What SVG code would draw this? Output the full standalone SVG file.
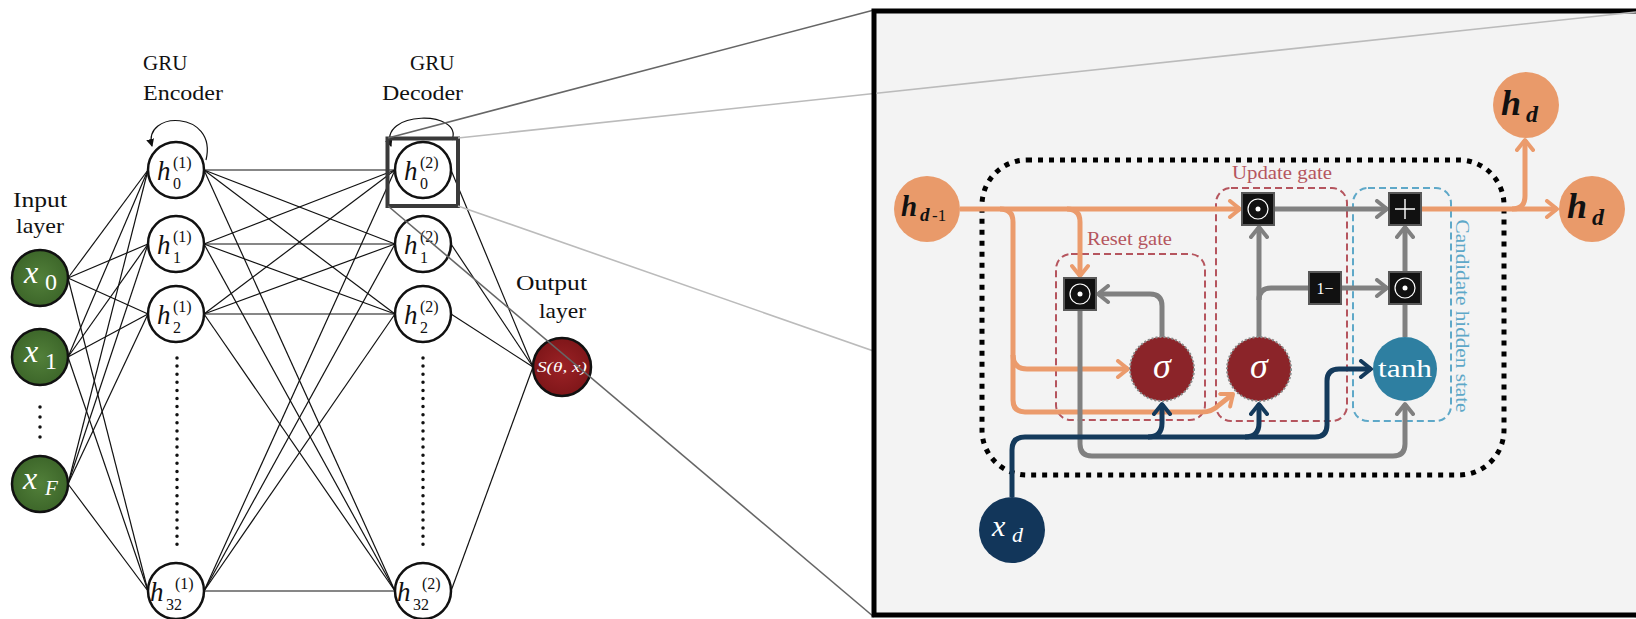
<svg xmlns="http://www.w3.org/2000/svg" width="1636" height="619" viewBox="0 0 1636 619">
<style>
.lbl{font-family:"Liberation Serif",serif;font-size:21px;fill:#111}
.net line,.net path{stroke:#111;stroke-width:1.2;fill:none}
.hn{fill:#fff;stroke:#111;stroke-width:2.5}
.mi{font-family:"Liberation Serif",serif;font-style:italic;fill:#111}
.mr{font-family:"Liberation Serif",serif;fill:#111}
.wi{font-family:"Liberation Serif",serif;font-style:italic;fill:#fff}
.wr{font-family:"Liberation Serif",serif;fill:#fff}
.bi{font-family:"Liberation Serif",serif;font-style:italic;font-weight:bold;fill:#111}
.og{stroke:#eb9b6c;stroke-width:5;fill:none}
.gr{stroke:#808080;stroke-width:5;fill:none}
.bl{stroke:#143a5c;stroke-width:5;fill:none}
.op{fill:#111;stroke:#595959;stroke-width:2}
.sym{fill:none;stroke:#fff;stroke-width:1.2}
.gate{fill:none;stroke:#b5555e;stroke-width:2;stroke-dasharray:7 4}
.cand{fill:none;stroke:#5ea8c8;stroke-width:2;stroke-dasharray:7 4}
.sig{fill:#8b2429;stroke:#8a8a8a;stroke-width:2;stroke-dasharray:2 2}
.glbl{font-family:"Liberation Serif",serif;font-size:18px;fill:#b5555e}
</style>
<defs>
<radialGradient id="gG" cx="0.5" cy="0.5" r="0.55"><stop offset="0" stop-color="#52803a"/><stop offset="1" stop-color="#3b6428"/></radialGradient>
<radialGradient id="gR" cx="0.5" cy="0.5" r="0.55"><stop offset="0" stop-color="#9c2226"/><stop offset="1" stop-color="#7c1518"/></radialGradient>
<marker id="aO" markerUnits="userSpaceOnUse" markerWidth="18" markerHeight="20" viewBox="0 0 18 20" refX="14" refY="10" orient="auto"><path d="M4,2 L14,10 L4,18" fill="none" stroke="#eb9b6c" stroke-width="4" stroke-linecap="round" stroke-linejoin="round"/></marker>
<marker id="aG" markerUnits="userSpaceOnUse" markerWidth="18" markerHeight="20" viewBox="0 0 18 20" refX="14" refY="10" orient="auto"><path d="M4,2 L14,10 L4,18" fill="none" stroke="#808080" stroke-width="4" stroke-linecap="round" stroke-linejoin="round"/></marker>
<marker id="aB" markerUnits="userSpaceOnUse" markerWidth="18" markerHeight="20" viewBox="0 0 18 20" refX="14" refY="10" orient="auto"><path d="M4,2 L14,10 L4,18" fill="none" stroke="#143a5c" stroke-width="4" stroke-linecap="round" stroke-linejoin="round"/></marker>
<marker id="aK" markerUnits="userSpaceOnUse" markerWidth="8" markerHeight="8" viewBox="0 0 8 8" refX="7" refY="4" orient="auto"><path d="M0,0 L8,4 L0,8 Z" fill="#111"/></marker>
</defs>

<!-- left network connectors -->
<g id="connectors-net" class="net">
<line x1="68" y1="278" x2="148" y2="170"/><line x1="68" y1="278" x2="148" y2="244"/><line x1="68" y1="278" x2="148" y2="314"/><line x1="68" y1="278" x2="148" y2="591"/>
<line x1="68" y1="357" x2="148" y2="170"/><line x1="68" y1="357" x2="148" y2="244"/><line x1="68" y1="357" x2="148" y2="314"/><line x1="68" y1="357" x2="148" y2="591"/>
<line x1="68" y1="484" x2="148" y2="170"/><line x1="68" y1="484" x2="148" y2="244"/><line x1="68" y1="484" x2="148" y2="314"/><line x1="68" y1="484" x2="148" y2="591"/>
<line x1="204" y1="170" x2="395" y2="170"/><line x1="204" y1="170" x2="395" y2="244"/><line x1="204" y1="170" x2="395" y2="314"/><line x1="204" y1="170" x2="395" y2="591"/>
<line x1="204" y1="244" x2="395" y2="170"/><line x1="204" y1="244" x2="395" y2="244"/><line x1="204" y1="244" x2="395" y2="314"/><line x1="204" y1="244" x2="395" y2="591"/>
<line x1="204" y1="314" x2="395" y2="170"/><line x1="204" y1="314" x2="395" y2="244"/><line x1="204" y1="314" x2="395" y2="314"/><line x1="204" y1="314" x2="395" y2="591"/>
<line x1="204" y1="591" x2="395" y2="170"/><line x1="204" y1="591" x2="395" y2="244"/><line x1="204" y1="591" x2="395" y2="314"/><line x1="204" y1="591" x2="395" y2="591"/>
<line x1="451" y1="170" x2="533" y2="367"/><line x1="451" y1="244" x2="533" y2="367"/><line x1="451" y1="314" x2="533" y2="367"/><line x1="451" y1="591" x2="533" y2="367"/>
<path d="M206,160 C218,110 142,110 152,146" marker-end="url(#aK)"/>
<path d="M452,140 C464,110 378,110 391,146" marker-end="url(#aK)"/>
</g>

<!-- labels -->
<text class="lbl" x="143" y="70" font-size="22">GRU</text>
<text class="lbl" x="143" y="100" textLength="80" lengthAdjust="spacingAndGlyphs">Encoder</text>
<text class="lbl" x="410" y="70" font-size="22">GRU</text>
<text class="lbl" x="382" y="100" textLength="81" lengthAdjust="spacingAndGlyphs">Decoder</text>
<text class="lbl" x="13" y="207" textLength="54" lengthAdjust="spacingAndGlyphs">Input</text>
<text class="lbl" x="16" y="233" textLength="48" lengthAdjust="spacingAndGlyphs">layer</text>
<text class="lbl" x="516" y="290" textLength="71" lengthAdjust="spacingAndGlyphs">Output</text>
<text class="lbl" x="539" y="318" textLength="47" lengthAdjust="spacingAndGlyphs">layer</text>

<!-- input nodes -->
<g id="x0"><circle cx="40" cy="278" r="28" fill="url(#gG)" stroke="#111" stroke-width="2.5"/><text class="wi" x="24" y="283" font-size="32">x</text><text class="wr" x="45" y="290" font-size="24">0</text></g>
<g id="x1"><circle cx="40" cy="357" r="28" fill="url(#gG)" stroke="#111" stroke-width="2.5"/><text class="wi" x="24" y="362" font-size="32">x</text><text class="wr" x="45" y="369" font-size="24">1</text></g>
<g id="xF"><circle cx="40" cy="484" r="28" fill="url(#gG)" stroke="#111" stroke-width="2.5"/><text class="wi" x="23" y="489" font-size="32">x</text><text class="wi" x="45" y="495" font-size="21">F</text></g>
<line x1="40" y1="407" x2="40" y2="440" stroke="#111" stroke-width="3.5" stroke-linecap="round" stroke-dasharray="0 10"/>

<!-- encoder nodes -->
<g id="h0e"><circle class="hn" cx="176" cy="170" r="28"/><text class="mi" x="157" y="180" font-size="27">h</text><text class="mr" x="173" y="168" font-size="16">(1)</text><text class="mr" x="173" y="189" font-size="16">0</text></g>
<g id="h1e"><circle class="hn" cx="176" cy="244" r="28"/><text class="mi" x="157" y="254" font-size="27">h</text><text class="mr" x="173" y="242" font-size="16">(1)</text><text class="mr" x="173" y="263" font-size="16">1</text></g>
<g id="h2e"><circle class="hn" cx="176" cy="314" r="28"/><text class="mi" x="157" y="324" font-size="27">h</text><text class="mr" x="173" y="312" font-size="16">(1)</text><text class="mr" x="173" y="333" font-size="16">2</text></g>
<g id="h32e"><circle class="hn" cx="176" cy="591" r="28"/><text class="mi" x="150" y="601" font-size="27">h</text><text class="mr" x="175" y="589" font-size="16">(1)</text><text class="mr" x="166" y="610" font-size="16">32</text></g>
<line x1="177" y1="358" x2="177" y2="552" stroke="#111" stroke-width="3.5" stroke-linecap="round" stroke-dasharray="0 8.1"/>

<!-- decoder nodes -->
<g id="h0d"><circle class="hn" cx="423" cy="170" r="28"/><text class="mi" x="404" y="180" font-size="27">h</text><text class="mr" x="420" y="168" font-size="16">(2)</text><text class="mr" x="420" y="189" font-size="16">0</text></g>
<g id="h1d"><circle class="hn" cx="423" cy="244" r="28"/><text class="mi" x="404" y="254" font-size="27">h</text><text class="mr" x="420" y="242" font-size="16">(2)</text><text class="mr" x="420" y="263" font-size="16">1</text></g>
<g id="h2d"><circle class="hn" cx="423" cy="314" r="28"/><text class="mi" x="404" y="324" font-size="27">h</text><text class="mr" x="420" y="312" font-size="16">(2)</text><text class="mr" x="420" y="333" font-size="16">2</text></g>
<g id="h32d"><circle class="hn" cx="423" cy="591" r="28"/><text class="mi" x="397" y="601" font-size="27">h</text><text class="mr" x="422" y="589" font-size="16">(2)</text><text class="mr" x="413" y="610" font-size="16">32</text></g>
<line x1="423" y1="358" x2="423" y2="552" stroke="#111" stroke-width="3.5" stroke-linecap="round" stroke-dasharray="0 8.1"/>

<!-- output node -->
<g id="out"><circle cx="562" cy="367" r="29" fill="url(#gR)" stroke="#111" stroke-width="2.5"/><text class="wi" x="537" y="372" font-size="15" textLength="50" lengthAdjust="spacingAndGlyphs">S(θ, x)</text></g>

<!-- highlight + zoom lines -->
<g id="zoom">
<rect x="387.5" y="138.5" width="70.5" height="67.5" fill="none" stroke="#3a3a3a" stroke-width="4"/>
<line x1="388" y1="138" x2="874" y2="10" stroke="#666" stroke-width="1.6"/>
<line x1="458" y1="138" x2="874" y2="93.5" stroke="#bbb" stroke-width="1.6"/>
<line x1="458" y1="206" x2="1636" y2="617" stroke="#bbb" stroke-width="1.6"/>
<line x1="388" y1="206" x2="874" y2="617" stroke="#666" stroke-width="1.6"/>
</g>

<!-- detail box -->
<rect x="874" y="11" width="800" height="604" fill="#f3f3f3" stroke="#000" stroke-width="5"/>
<line x1="876.5" y1="93.2" x2="1636" y2="12" stroke="#bbb" stroke-width="1.6"/>

<!-- gate regions -->
<rect x="982" y="160" width="522" height="315" rx="45" fill="none" stroke="#000" stroke-width="5" stroke-dasharray="5 6"/>
<rect class="gate" x="1056" y="254" width="149" height="166" rx="15"/>
<rect class="gate" x="1216" y="188" width="131" height="233" rx="15"/>
<rect class="cand" x="1353" y="188" width="98" height="233" rx="15"/>
<text class="glbl" x="1087" y="245" textLength="85" lengthAdjust="spacingAndGlyphs">Reset gate</text>
<text class="glbl" x="1232" y="179" textLength="100" lengthAdjust="spacingAndGlyphs">Update gate</text>
<text class="glbl" transform="translate(1456,316) rotate(90)" text-anchor="middle" style="fill:#5ea8c8" textLength="193" lengthAdjust="spacingAndGlyphs">Candidate hidden state</text>

<!-- cell connectors -->
<g id="connectors-cell">
<path class="og" d="M960,209 L1240,209" marker-end="url(#aO)"/>
<path class="og" d="M1000,209 Q1013,209 1013,222 L1013,400 Q1013,412 1025,412 L1202,412 Q1212,412 1219,405 L1233,394" marker-end="url(#aO)"/>
<path class="og" d="M1013,355 Q1013,369 1027,369 L1128,369" marker-end="url(#aO)"/>
<path class="og" d="M1067,209 Q1080,209 1080,222 L1080,276" marker-end="url(#aO)"/>
<path class="og" d="M1421,209 L1557,209" marker-end="url(#aO)"/>
<path class="og" d="M1512,209 Q1525,209 1525,196 L1525,140" marker-end="url(#aO)"/>
<path class="gr" d="M1162,337 L1162,306 Q1162,294 1150,294 L1098,294" marker-end="url(#aG)"/>
<path class="gr" d="M1080,310 L1080,444 Q1080,456 1092,456 L1393,456 Q1405,456 1405,444 L1405,404" marker-end="url(#aG)"/>
<path class="gr" d="M1259,337 L1259,227" marker-end="url(#aG)"/>
<path class="gr" d="M1259,300 Q1259,288 1271,288 L1310,288"/>
<path class="gr" d="M1341,288 L1387,288" marker-end="url(#aG)"/>
<path class="gr" d="M1274,209 L1387,209" marker-end="url(#aG)"/>
<path class="gr" d="M1405,337 L1405,303"/>
<path class="gr" d="M1405,272 L1405,227" marker-end="url(#aG)"/>
<path class="bl" d="M1012,497 L1012,450 Q1012,437 1025,437 L1315,437 Q1327,437 1327,425 L1327,381 Q1327,369 1339,369 L1371,369" marker-end="url(#aB)"/>
<path class="bl" d="M1148,437 Q1162,437 1162,423 L1162,404" marker-end="url(#aB)"/>
<path class="bl" d="M1245,437 Q1259,437 1259,423 L1259,404" marker-end="url(#aB)"/>
</g>

<!-- cell nodes -->
<g id="hprev"><circle cx="927" cy="209" r="33" fill="#e99a6a"/><text class="bi" x="901" y="216" font-size="29">h</text><text class="bi" x="920" y="221" font-size="19">d</text><text class="mr" x="932" y="221" font-size="17">-1</text></g>
<g id="hd-top"><circle cx="1526" cy="105" r="33" fill="#e99a6a"/><text class="bi" x="1501" y="115" font-size="36">h</text><text class="bi" x="1526" y="122" font-size="24">d</text></g>
<g id="hd-right"><circle cx="1592" cy="209" r="33" fill="#e99a6a"/><text class="bi" x="1567" y="218" font-size="36">h</text><text class="bi" x="1592" y="225" font-size="24">d</text></g>
<g id="xd"><circle cx="1012" cy="530" r="33" fill="#12365a"/><text class="wi" x="992" y="536" font-size="30">x</text><text class="wi" x="1012" y="542" font-size="22">d</text></g>
<g id="sigma-reset"><circle class="sig" cx="1162" cy="369" r="32"/><text class="wi" x="1162" y="378" font-size="36" text-anchor="middle">σ</text></g>
<g id="sigma-update"><circle class="sig" cx="1259" cy="369" r="32"/><text class="wi" x="1259" y="378" font-size="36" text-anchor="middle">σ</text></g>
<g id="tanh"><circle cx="1405" cy="369" r="32" fill="#2e7fa1"/><text class="wr" x="1378" y="377" font-size="25" textLength="54" lengthAdjust="spacingAndGlyphs">tanh</text></g>
<g id="mul-reset"><rect class="op" x="1064" y="278" width="32" height="32"/><circle class="sym" cx="1080" cy="294" r="10"/><circle cx="1080" cy="294" r="2.5" fill="#fff"/></g>
<g id="mul-update"><rect class="op" x="1242" y="193" width="32" height="32"/><circle class="sym" cx="1258" cy="209" r="10"/><circle cx="1258" cy="209" r="2.5" fill="#fff"/></g>
<g id="mul-cand"><rect class="op" x="1389" y="272" width="32" height="32"/><circle class="sym" cx="1405" cy="288" r="10"/><circle cx="1405" cy="288" r="2.5" fill="#fff"/></g>
<g id="plus"><rect class="op" x="1389" y="193" width="32" height="32"/><path d="M1395,209 H1415 M1405,199 V219" stroke="#fff" stroke-width="1.4"/></g>
<g id="one-minus"><rect class="op" x="1309" y="272" width="32" height="32"/><text class="wr" x="1325" y="294" font-size="16" text-anchor="middle">1−</text></g>
</svg>
